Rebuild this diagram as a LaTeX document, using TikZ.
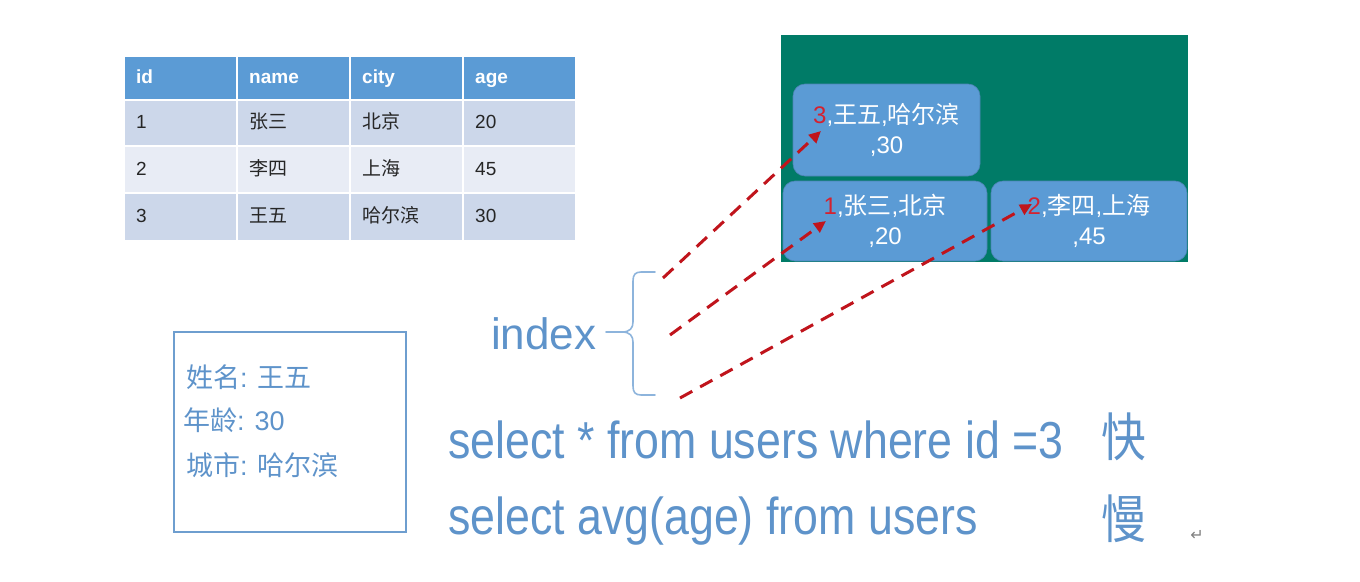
\documentclass[tikz,border=0pt]{standalone}
\usepackage{fontspec}
\setmainfont{Liberation Sans}
\newfontfamily\cjk{Noto Sans CJK SC}
\newfontfamily\djv{DejaVu Sans}
\usetikzlibrary{arrows.meta}
\definecolor{hdr}{HTML}{5B9BD5}
\definecolor{rowA}{HTML}{CCD7EA}
\definecolor{rowB}{HTML}{E8ECF5}
\definecolor{treegreen}{HTML}{007B67}
\definecolor{nodeblue}{HTML}{5B9BD5}
\definecolor{txtblue}{HTML}{5E93CA}
\definecolor{bracecol}{HTML}{8DB4DC}
\definecolor{arrred}{HTML}{C0141C}
\definecolor{numred}{HTML}{D42230}
\definecolor{bodytxt}{HTML}{262626}
\tikzset{
  hcell/.style={fill=hdr, text=white, font=\bfseries\fontsize{19}{22}\selectfont,
    anchor=north west, inner xsep=11pt, inner ysep=0pt, text width=89pt,
    text height=14pt, text depth=4pt,
    minimum height=42pt, align=left},
  bcell/.style={fill=#1, text=bodytxt, font=\fontsize{19}{22}\selectfont,
    anchor=north west, inner xsep=11pt, inner ysep=0pt, text width=89pt,
    text height=15pt, text depth=4pt,
    minimum height=45pt, align=left},
  rec/.style={fill=nodeblue, draw=nodeblue!85!black, line width=0.6pt,
    rounded corners=12pt, text=white, align=center,
    font=\fontsize{24}{30}\selectfont},
  idx/.style={draw=arrred, line width=3pt, dash pattern=on 14pt off 9pt,
    -{Triangle[length=12pt,width=11pt]}},
  big/.style={text=txtblue, anchor=base west, inner sep=0pt,
    font=\fontsize{52}{60}\selectfont},
  info/.style={text=txtblue, anchor=base west, inner sep=0pt,
    font=\fontsize{27}{30}\selectfont}
}
\begin{document}
\begin{tikzpicture}[x=1pt,y=-1pt]
\useasboundingbox (0,0) rectangle (1360,581);
% table
\node[hcell] (h1) at (125,57) {id};
\node[hcell] (h2) at (238,57) {name};
\node[hcell] (h3) at (351,57) {city};
\node[hcell] (h4) at (464,57) {age};
\node[bcell=rowA, minimum height=44pt] (a1) at (125,101) {1};
\node[bcell=rowA, minimum height=44pt] (a2) at (238,101) {\cjk 张三};
\node[bcell=rowA, minimum height=44pt] (a3) at (351,101) {\cjk 北京};
\node[bcell=rowA, minimum height=44pt] (a4) at (464,101) {20};
\node[bcell=rowB] (b1) at (125,147) {2};
\node[bcell=rowB] (b2) at (238,147) {\cjk 李四};
\node[bcell=rowB] (b3) at (351,147) {\cjk 上海};
\node[bcell=rowB] (b4) at (464,147) {45};
\node[bcell=rowA, minimum height=46pt] (c1) at (125,194) {3};
\node[bcell=rowA, minimum height=46pt] (c2) at (238,194) {\cjk 王五};
\node[bcell=rowA, minimum height=46pt] (c3) at (351,194) {\cjk 哈尔滨};
\node[bcell=rowA, minimum height=46pt] (c4) at (464,194) {30};
% tree
\node[fill=treegreen, minimum width=407pt, minimum height=227pt, anchor=north west, inner sep=0pt] (tree) at (781,35) {};
\node[rec, minimum width=187pt, minimum height=92pt] (n3) at (886.5,130)
  {{\color{numred}3},{\cjk 王五},{\cjk 哈尔滨}\\,30};
\node[rec, minimum width=204pt, minimum height=80pt] (n1) at (885,221)
  {{\color{numred}1},{\cjk 张三},{\cjk 北京}\\,20};
\node[rec, minimum width=196pt, minimum height=80pt] (n2) at (1089,221)
  {{\color{numred}2},{\cjk 李四},{\cjk 上海}\\,45};
% index + brace
\node[text=txtblue, anchor=base west, inner sep=0pt, font=\fontsize{44}{50}\selectfont] (index) at (491,349) {index};
\draw[bracecol, line width=1.6pt, line cap=round, line join=round]
  (655,272) -- (641,272) .. controls (635,272) and (633,275) .. (633,281)
  -- (633,322) .. controls (633,328) and (630,332) .. (622,332) -- (606,332)
  (622,332) .. controls (630,332) and (633,336) .. (633,342)
  -- (633,386) .. controls (633,392) and (635,395) .. (641,395) -- (655,395);
% dashed arrows
\coordinate (s1) at (663,278);
\coordinate (s2) at (670,335);
\coordinate (s3) at (680,398);
\coordinate (t1) at (821,131);
\coordinate (t2) at (826,221);
\coordinate (t3) at (1032,204);
\draw[idx] (s1) -- (t1);
\draw[idx] (s2) -- (t2);
\draw[idx] (s3) -- (t3);
% info box
\node[draw=txtblue!90, line width=1.8pt, minimum width=232pt, minimum height=200pt, anchor=north west, inner sep=0pt] (card) at (173,331) {};
\node[info] (l1) at (186,387) {{\cjk 姓名}: {\cjk 王五}};
\node[info] (l2) at (183,430) {{\cjk 年龄}: 30};
\node[info] (l3) at (186,475) {{\cjk 城市}: {\cjk 哈尔滨}};
% queries
\node[big] (q1) at (448,458) {\scalebox{0.86}[1]{select * from users where id =3}};
\node[big] (q2) at (448,534) {\scalebox{0.86}[1]{select avg(age) from users}};
\node[big] (fast) at (1101,456) {\scalebox{0.86}[1]{\cjk 快}};
\node[big] (slow) at (1101,538) {\scalebox{0.86}[1]{\cjk 慢}};
\node[text=gray, font=\djv\fontsize{16}{18}\selectfont, inner sep=0pt] (ret) at (1197,535) {↵};
\end{tikzpicture}
\end{document}
